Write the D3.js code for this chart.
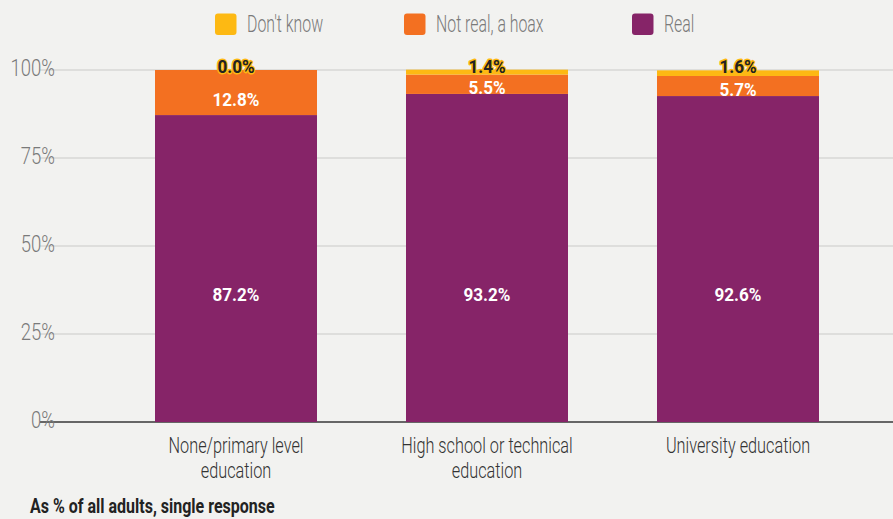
<!DOCTYPE html>
<html>
<head>
<meta charset="utf-8">
<script src="https://cdn.jsdelivr.net/npm/d3@7"></script>
<style>
  body { margin: 0; background: #f2f2f0; }
  svg { display: block; }
  text { font-family: "Roboto", "Liberation Sans", sans-serif; }
</style>
</head>
<body>
<svg id="chart" width="893" height="519"></svg>
<script>
// data
const categories = [
  ['None/primary level', 'education'],
  ['High school or technical', 'education'],
  ['University education']
];
const seriesNames = ['Real', 'Not real, a hoax', "Don't know"];
const real = [87.2, 93.2, 92.6];
const hoax = [12.8, 5.5, 5.7];
const dontKnow = [0.0, 1.4, 1.6];
const yTicks = [0, 25, 50, 75, 100];
const legendOrder = ["Don't know", 'Not real, a hoax', 'Real'];
const colors = { 'Real': '#862468', 'Not real, a hoax': '#f37021', "Don't know": '#fdb913' };

const width = 893, height = 519;
const svg = d3.select('#chart');

svg.append('rect').attr('width', width).attr('height', height).attr('fill', '#f2f2f0');

// condensed look: place text with a horizontal squeeze
function squeezed(sel, px, py, sx) {
  return sel.append('text')
    .attr('transform', `translate(${px},${py}) scale(${sx},1)`);
}

const x = d3.scaleBand()
  .domain(d3.range(categories.length))
  .range([110.5, 863.5])
  .paddingInner(0.3546)
  .paddingOuter(0.1773);

const y = d3.scaleLinear().domain([0, 100]).range([422, 70]);

// gridlines + y labels
const grid = svg.append('g');
yTicks.forEach(t => {
  grid.append('line')
    .attr('x1', 40).attr('x2', width)
    .attr('y1', y(t)).attr('y2', y(t))
    .attr('stroke', t === 0 ? '#666' : '#c9c9c7')
    .attr('stroke-width', t === 0 ? 2 : 1.2);
  squeezed(grid, 55, y(t) + 5.5, 0.77)
    .attr('text-anchor', 'end')
    .attr('font-size', 24)
    .attr('font-weight', 300)
    .attr('fill', '#7a7a7a')
    .text(t + '%');
});

// stacked bars
const rows = categories.map((c, i) => ({ i, Real: real[i], 'Not real, a hoax': hoax[i], "Don't know": dontKnow[i] }));
const stack = d3.stack().keys(seriesNames)(rows);

const layers = svg.append('g').selectAll('g')
  .data(stack)
  .join('g')
  .attr('fill', d => colors[d.key]);

layers.selectAll('rect')
  .data(d => d)
  .join('rect')
  .attr('x', d => x(d.data.i))
  .attr('width', x.bandwidth())
  .attr('y', d => y(d[1]))
  .attr('height', d => y(d[0]) - y(d[1]));

// value labels
const lbl = svg.append('g').attr('text-anchor', 'middle').attr('font-weight', 'bold').attr('font-size', 19);
const cx = i => x(i) + x.bandwidth() / 2;

// Real labels sit at a common height
real.forEach((v, i) => {
  squeezed(lbl, cx(i), y(36.4) + 6.7, 0.9)
    .attr('fill', '#fff')
    .text(v.toFixed(1) + '%');
});

hoax.forEach((v, i) => {
  const top = y(real[i] + v), bot = y(real[i]);
  const mid = (top + bot) / 2 + 0.15 * (bot - top);
  squeezed(lbl, cx(i), mid + 6.7, 0.9)
    .attr('fill', '#fff')
    .text(v.toFixed(1) + '%');
});

dontKnow.forEach((v, i) => {
  squeezed(lbl, cx(i), y(100) + 2.5, 0.9)
    .attr('fill', '#222')
    .attr('stroke', '#fdb913')
    .attr('stroke-width', 3)
    .attr('paint-order', 'stroke')
    .attr('stroke-linejoin', 'round')
    .text(v.toFixed(1) + '%');
});

// category labels
const cat = svg.append('g').attr('text-anchor', 'middle').attr('font-size', 22).attr('font-weight', 300).attr('fill', '#333');
categories.forEach((lines, i) => {
  lines.forEach((l, k) => {
    squeezed(cat, cx(i), 453 + k * 25, 0.74).text(l);
  });
});

// legend
const legendX = [215, 404, 632];
const legend = svg.append('g');
legendOrder.forEach((k, i) => {
  legend.append('rect')
    .attr('x', legendX[i]).attr('y', 13.5)
    .attr('width', 21.5).attr('height', 21.5).attr('rx', 3)
    .attr('fill', colors[k]);
  squeezed(legend, legendX[i] + 32, 32, 0.66)
    .attr('font-size', 24)
    .attr('font-weight', 300)
    .attr('fill', '#7a7a7a')
    .text(k);
});

// footnote
squeezed(svg, 30, 513, 0.8)
  .attr('font-size', 20)
  .attr('font-weight', 'bold')
  .attr('fill', '#222')
  .text('As % of all adults, single response');
</script>
</body>
</html>
